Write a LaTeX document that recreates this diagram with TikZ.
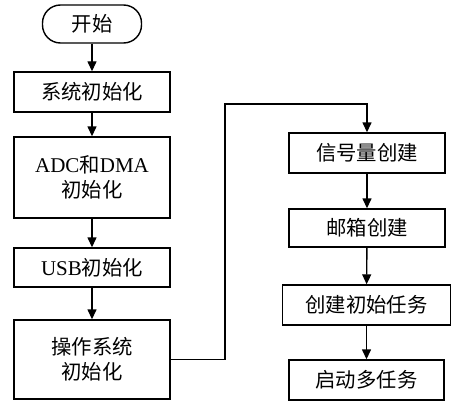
\documentclass[tikz,border=0pt]{standalone}
\usepackage{fontspec}
\setmainfont{Liberation Serif}
\newfontfamily\cjk{Noto Sans CJK SC}[Scale=0.97]
\usetikzlibrary{arrows.meta}
\tikzset{
  box/.style={draw, line width=1.4pt, minimum width=156pt, minimum height=40pt, inner sep=0pt,
    align=center, font=\fontsize{21pt}{25pt}\selectfont},
  term/.style={box, minimum width=99pt, minimum height=38pt, rounded corners=18pt},
  flow/.style={line width=1.4pt, -{Triangle[length=10pt,width=9pt]}}
}
\begin{document}
\begin{tikzpicture}[x=1pt,y=-1pt]
\useasboundingbox (0,0) rectangle (452,404);
\node[term] (start) at (92,24) {\cjk 开始};
\node[box] (sys) at (92,92) {\cjk 系统初始化};
\node[box, minimum height=81pt] (adc) at (92,177.5) {ADC{\cjk 和}DMA\\{\cjk 初始化}};
\node[box, minimum height=39pt] (usb) at (92,267.5) {USB{\cjk 初始化}};
\node[box, minimum height=79pt] (os) at (92,359.5) {\cjk 操作系统\\\cjk 初始化};
\node[box] (sem) at (367,153) {\cjk 信号量创建};
\node[box, minimum height=38pt] (mbox) at (367,228) {\cjk 邮箱创建};
\node[box, minimum width=168pt] (task) at (366.5,305) {\cjk 创建初始任务};
\node[box, minimum width=155pt] (multi) at (366.5,380) {\cjk 启动多任务};
\coordinate (c1) at (225,104);
\draw[flow] (start) -- (sys);
\draw[flow] (sys) -- (adc);
\draw[flow] (adc) -- (usb);
\draw[flow] (usb) -- (os);
\draw[flow] (os.east) -| (c1) -| (sem.north);
\draw[flow] (sem) -- (mbox);
\draw[flow] (mbox) -- (task);
\draw[flow] (task) -- (multi);
\end{tikzpicture}
\end{document}
